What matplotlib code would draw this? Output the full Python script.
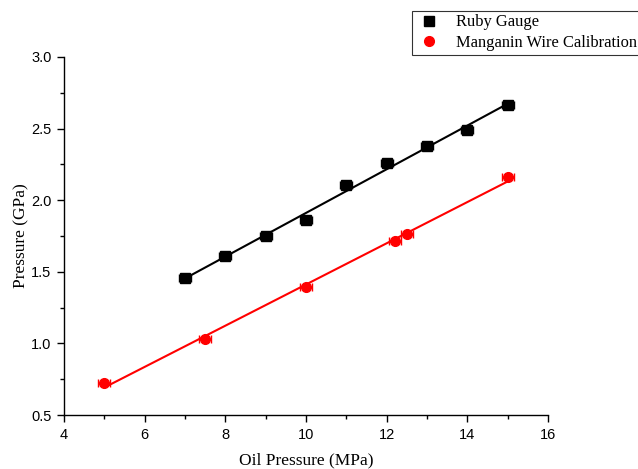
import numpy as np
import matplotlib
matplotlib.use("Agg")
import matplotlib.pyplot as plt
from matplotlib.ticker import MultipleLocator, FormatStrFormatter

ruby_x = [7, 8, 9, 10, 11, 12, 13, 14, 15]
ruby_y = [1.455, 1.61, 1.748, 1.86, 2.105, 2.258, 2.378, 2.49, 2.668]
mang_x = [5, 7.5, 10, 12.2, 12.5, 15]
mang_y = [0.723, 1.03, 1.393, 1.714, 1.765, 2.16]
xerr = 0.15

fig = plt.figure(figsize=(6.38, 4.69), dpi=100)
ax = fig.add_axes([0.1003, 0.1151, 0.7586, 0.7634])

for xs, ys, color, marker, label in [
    (ruby_x, ruby_y, "black", "s", "Ruby Gauge"),
    (mang_x, mang_y, "red", "o", "Manganin Wire Calibration"),
]:
    ax.errorbar(xs, ys, xerr=xerr, fmt=marker, color=color, ms=7,
                capsize=3, elinewidth=0.8, label=label, zorder=3)
    k, b = np.polyfit(xs, ys, 1)
    fx = np.array([min(xs), max(xs)])
    ax.plot(fx, k * fx + b, color=color, lw=1.5, zorder=2)

ax.set_xlim(4, 16)
ax.set_ylim(0.5, 3.0)
ax.xaxis.set_major_locator(MultipleLocator(2))
ax.xaxis.set_minor_locator(MultipleLocator(1))
ax.yaxis.set_major_locator(MultipleLocator(0.5))
ax.yaxis.set_minor_locator(MultipleLocator(0.25))
ax.yaxis.set_major_formatter(FormatStrFormatter("%.1f"))
ax.spines["top"].set_visible(False)
ax.spines["right"].set_visible(False)
for s in ("left", "bottom"):
    ax.spines[s].set_linewidth(1.0)
ax.tick_params(which="major", direction="out", length=5, width=1,
               labelsize=10.5, pad=4)
ax.tick_params(which="minor", direction="out", length=3, width=1)
for lab in ax.get_xticklabels() + ax.get_yticklabels():
    lab.set_family("Liberation Sans")

ax.set_xlabel("Oil Pressure (MPa)", family="Liberation Serif", fontsize=12.5,
              labelpad=8)
ax.set_ylabel("Pressure (GPa)", family="Liberation Serif", fontsize=12.5,
              labelpad=1)

handles, labels = ax.get_legend_handles_labels()
handles = [h[0] for h in handles]
leg = fig.legend(handles, labels, loc="upper left",
                 bbox_to_anchor=(412 / 638, 1 - 11 / 469),
                 borderaxespad=0,
                 prop={"family": "Liberation Serif", "size": 11.9},
                 frameon=True, fancybox=False, edgecolor="black",
                 handlelength=1.6, handletextpad=0.85, borderpad=0.2,
                 labelspacing=0.3)
leg.get_frame().set_linewidth(0.8)

fig.savefig("out.png", dpi=100)
